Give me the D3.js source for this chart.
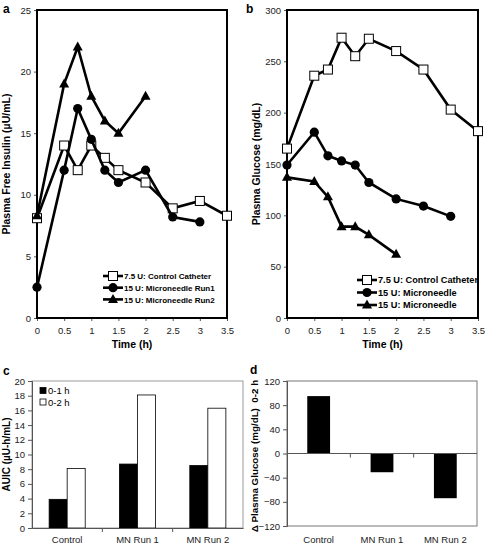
<!DOCTYPE html>
<html><head><meta charset="utf-8">
<script src="https://cdn.jsdelivr.net/npm/d3@7"></script>
<style>
body{margin:0;background:#fff;}
svg{font-family:"Liberation Sans",Arial,Helvetica,sans-serif;}
</style></head>
<body><svg id="c" width="485" height="545"></svg>
<script>
// ---- Data ----
const insulinControlT = [0,0.5,0.75,1,1.25,1.5,2,2.5,3,3.5];
const insulinControl  = [8.1,14,12,14,13,12,11,8.9,9.5,8.3];
const insulinRun1T = [0,0.5,0.75,1,1.25,1.5,2,2.5,3];
const insulinRun1  = [2.5,12,17,14.5,12,11,12,8.2,7.8];
const insulinRun2T = [0,0.5,0.75,1,1.25,1.5,2];
const insulinRun2  = [8.3,19,22,18,16,15,18];

const glucoseControlT = [0,0.5,0.75,1,1.25,1.5,2,2.5,3,3.5];
const glucoseControl  = [165,236,242,273,255,272,260,242,203,182];
const glucoseMN1T = [0,0.5,0.75,1,1.25,1.5,2,2.5,3];
const glucoseMN1  = [149,181,158,153,149,132,116,109,99];
const glucoseMN2T = [0,0.5,0.75,1,1.25,1.5,2];
const glucoseMN2  = [137,133,118,89,89,81,62];

const legendA = ["7.5 U: Control Catheter","15 U: Microneedle Run1","15 U: Microneedle Run2"];
const legendB = ["7.5 U: Control Catheter","15 U: Microneedle","15 U: Microneedle"];

const barCats = ["Control","MN Run 1","MN Run 2"];
const auic01 = [3.9,8.7,8.5];
const auic02 = [8.1,18.1,16.3];
const auicKeys = ["0-1 h","0-2 h"];
const deltaGlucose = [95,-31,-74];

const timeTicks = [0,0.5,1,1.5,2,2.5,3,3.5];
const insulinTicks = [0,5,10,15,20,25];
const glucoseTicks = [0,50,100,150,200,250,300];
const auicTicks = [0,2,4,6,8,10,12,14,16,18,20];
const deltaTicks = [-120,-80,-40,0,40,80,120];

const svg = d3.select("#c");

function marker(g, type, x, y){
  if(type==="square"){
    g.append("rect").attr("x",x-4.5).attr("y",y-4.5).attr("width",9).attr("height",9)
     .attr("fill","#fff").attr("stroke","#000").attr("stroke-width",1);
  } else if(type==="circle"){
    g.append("circle").attr("cx",x).attr("cy",y).attr("r",4.6).attr("fill","#000");
  } else {
    g.append("path").attr("d",`M${x},${y-5.5}L${x+5},${y+3.5}L${x-5},${y+3.5}Z`).attr("fill","#000");
  }
}

function linePanel(box, yMax, yTicks, series, legendNames, legendPos, yTitle, letter){
  const g = svg.append("g");
  const x = d3.scaleLinear().domain([0,3.5]).range([box.l, box.r]);
  const y = d3.scaleLinear().domain([0,yMax]).range([box.b, box.t]);
  const ya = g.append("g").attr("transform",`translate(${box.l},0)`)
    .call(d3.axisLeft(y).tickValues(yTicks).tickSize(3).tickPadding(3));
  const xa = g.append("g").attr("transform",`translate(0,${box.b})`)
    .call(d3.axisBottom(x).tickValues(timeTicks).tickSize(3).tickPadding(6).tickFormat(d=>d));
  [ya,xa].forEach(a=>{
    a.select(".domain").remove();
    a.selectAll("text").attr("font-size",9.5).attr("fill","#222");
    a.selectAll("line").attr("stroke","#555");
  });
  g.append("rect").attr("x",box.l).attr("y",box.t).attr("width",box.r-box.l).attr("height",box.b-box.t)
    .attr("fill","none").attr("stroke","#000").attr("stroke-width",2);
  series.forEach(s=>{
    const pts = s.t.map((t,i)=>[x(t), y(s.v[i])]);
    g.append("path").attr("d", d3.line()(pts)).attr("fill","none").attr("stroke","#000").attr("stroke-width",2.6);
    pts.forEach(p=>marker(g, s.m, p[0], p[1]));
  });
  legendNames.forEach((name,i)=>{
    const ly = legendPos.y + i*legendPos.dy;
    g.append("line").attr("x1",legendPos.x).attr("x2",legendPos.x+20).attr("y1",ly).attr("y2",ly)
      .attr("stroke","#000").attr("stroke-width",2.6);
    marker(g, series[i].m, legendPos.x+10, ly);
    g.append("text").attr("x",legendPos.x+21).attr("y",ly+3.3).attr("font-size",legendPos.fs)
      .attr("font-weight","bold").text(name);
  });
  g.append("text").attr("x",(box.l+box.r)/2).attr("y",box.b+30).attr("text-anchor","middle")
    .attr("font-size",10.5).attr("font-weight","bold").text("Time (h)");
  g.append("text").attr("transform",`translate(${box.l-27},${(box.t+box.b)/2}) rotate(-90)`)
    .attr("text-anchor","middle").attr("font-size",10.5).attr("font-weight","bold").text(yTitle);
  g.append("text").attr("x",letter.x).attr("y",letter.y).attr("font-size",12).attr("font-weight","bold").text(letter.t);
}

linePanel({l:37,r:227,t:10,b:318}, 25, insulinTicks, [
  {t:insulinControlT, v:insulinControl, m:"square"},
  {t:insulinRun1T, v:insulinRun1, m:"circle"},
  {t:insulinRun2T, v:insulinRun2, m:"triangle"}
], legendA, {x:103,y:276,dy:11.7,fs:8}, "Plasma Free Insulin (µU/mL)", {x:3,y:13,t:"a"});

linePanel({l:287,r:478,t:10,b:318}, 300, glucoseTicks, [
  {t:glucoseControlT, v:glucoseControl, m:"square"},
  {t:glucoseMN1T, v:glucoseMN1, m:"circle"},
  {t:glucoseMN2T, v:glucoseMN2, m:"triangle"}
], legendB, {x:357,y:280,dy:12.5,fs:9.2}, "Plasma Glucose (mg/dL)", {x:246,y:13,t:"b"});

// ---- Panel c ----
(function(){
  const box={l:32,r:243,t:381,b:528};
  const g = svg.append("g");
  const x0 = d3.scaleBand().domain(barCats).range([box.l,box.r]).paddingInner(0).paddingOuter(0);
  const x1 = d3.scaleBand().domain(auicKeys).range([0,x0.bandwidth()]).paddingOuter(0.95).paddingInner(0);
  const y = d3.scaleLinear().domain([0,20]).range([box.b,box.t]);
  g.append("rect").attr("x",box.l).attr("y",box.t).attr("width",box.r-box.l).attr("height",box.b-box.t)
    .attr("fill","none").attr("stroke","#999").attr("stroke-width",1);
  const vals=[auic01,auic02];
  barCats.forEach((c,i)=>{
    auicKeys.forEach((k,j)=>{
      g.append("rect").attr("x",x0(c)+x1(k)).attr("y",y(vals[j][i])).attr("width",x1.bandwidth())
        .attr("height",y(0)-y(vals[j][i])).attr("fill",j===0?"#000":"#fff").attr("stroke","#000").attr("stroke-width",0.8);
    });
  });
  const ya = g.append("g").attr("transform",`translate(${box.l},0)`)
    .call(d3.axisLeft(y).tickValues(auicTicks).tickSize(4).tickPadding(3));
  ya.select(".domain").attr("stroke","#555");
  ya.selectAll("line").attr("stroke","#555");
  ya.selectAll("text").attr("font-size",9.5).attr("fill","#222");
  const xa = g.append("g").attr("transform",`translate(0,${box.b})`)
    .call(d3.axisBottom(x0).tickSize(0).tickPadding(8));
  xa.select(".domain").attr("stroke","#555");
  xa.selectAll("text").attr("font-size",9.5).attr("fill","#222");
  barCats.slice(1).forEach(c=>{
    g.append("line").attr("x1",x0(c)).attr("x2",x0(c)).attr("y1",box.b).attr("y2",box.b+4).attr("stroke","#555");
  });
  auicKeys.forEach((k,j)=>{
    const ly=391+j*11.5;
    g.append("rect").attr("x",40).attr("y",ly-3.5).attr("width",6).attr("height",6)
      .attr("fill",j===0?"#000":"#fff").attr("stroke","#000").attr("stroke-width",0.8);
    g.append("text").attr("x",48).attr("y",ly+3).attr("font-size",9.5).text(k);
  });
  g.append("text").attr("transform",`translate(10,${(box.t+box.b)/2}) rotate(-90)`)
    .attr("text-anchor","middle").attr("font-size",10).attr("font-weight","bold").text("AUIC (µU-h/mL)");
  g.append("text").attr("x",3).attr("y",375).attr("font-size",12).attr("font-weight","bold").text("c");
})();

// ---- Panel d ----
(function(){
  const box={l:287,r:477,t:381,b:526};
  const g = svg.append("g");
  const x = d3.scaleBand().domain(barCats).range([box.l,box.r]).paddingInner(0.64).paddingOuter(0.32);
  const xb = d3.scaleBand().domain(barCats).range([box.l,box.r]);
  const y = d3.scaleLinear().domain([-120,120]).range([box.b,box.t]);
  g.append("rect").attr("x",box.l).attr("y",box.t).attr("width",box.r-box.l).attr("height",box.b-box.t)
    .attr("fill","none").attr("stroke","#777").attr("stroke-width",1);
  barCats.forEach((c,i)=>{
    const v=deltaGlucose[i];
    g.append("rect").attr("x",x(c)).attr("y",y(Math.max(0,v))).attr("width",x.bandwidth())
      .attr("height",Math.abs(y(v)-y(0))).attr("fill","#000");
  });
  g.append("line").attr("x1",box.l).attr("x2",box.r).attr("y1",y(0)).attr("y2",y(0)).attr("stroke","#555");
  barCats.slice(1).forEach(c=>{
    g.append("line").attr("x1",xb(c)).attr("x2",xb(c)).attr("y1",y(0)).attr("y2",y(0)+4).attr("stroke","#555");
  });
  const ya = g.append("g").attr("transform",`translate(${box.l},0)`)
    .call(d3.axisLeft(y).tickValues(deltaTicks).tickSize(4).tickPadding(3));
  ya.select(".domain").attr("stroke","#555");
  ya.selectAll("line").attr("stroke","#555");
  ya.selectAll("text").attr("font-size",9.5).attr("fill","#222");
  barCats.forEach(c=>{
    g.append("text").attr("x",xb(c)+xb.bandwidth()/2).attr("y",box.b+17).attr("text-anchor","middle")
      .attr("font-size",9.5).attr("fill","#222").text(c);
  });
  g.append("text").attr("transform",`translate(258,456) rotate(-90)`)
    .attr("text-anchor","middle").attr("font-size",9.8).attr("font-weight","bold").attr("xml:space","preserve")
    .text("Δ Plasma Glucose (mg/dL)  0-2 h");
  g.append("text").attr("x",250).attr("y",374).attr("font-size",12).attr("font-weight","bold").text("d");
})();
</script></body></html>
